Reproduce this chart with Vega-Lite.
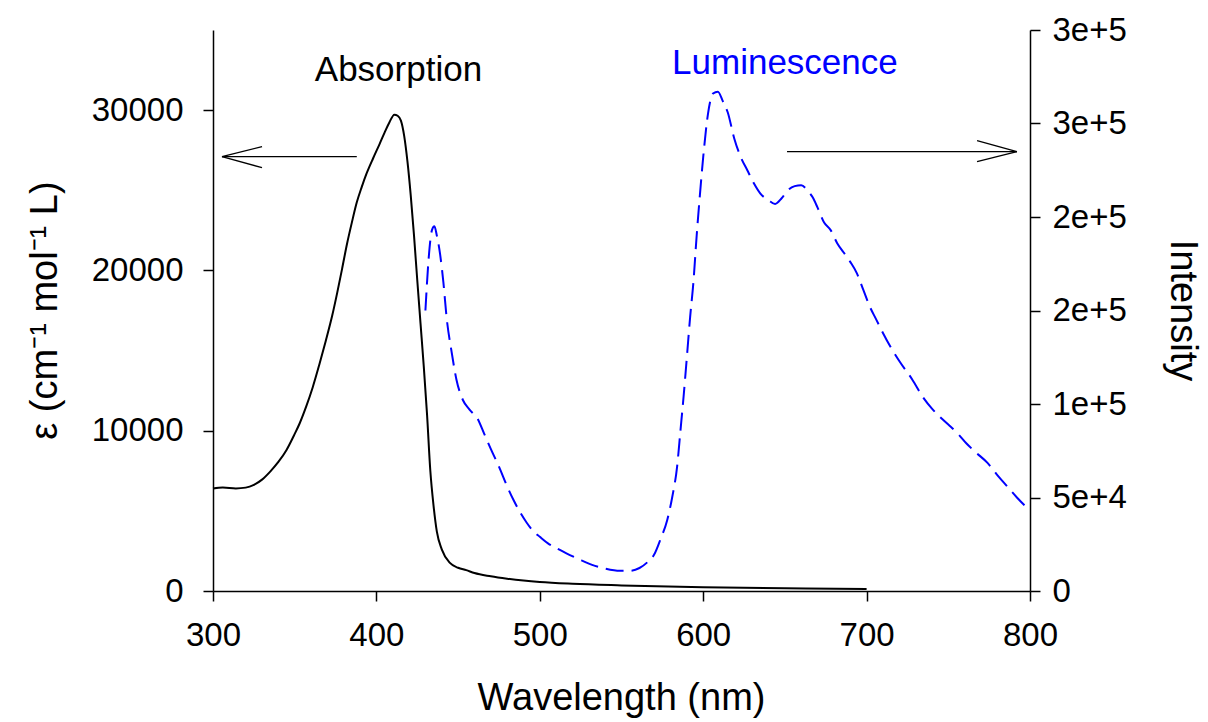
{
  "$schema": "https://vega.github.io/schema/vega-lite/v6.json",
  "width": 817,
  "height": 561,
  "autosize": {"type": "none"},
  "padding": {"left": 213, "top": 30, "right": 178, "bottom": 131},
  "background": "white",
  "config": {
    "view": {"stroke": null},
    "font": "Liberation Sans",
    "axis": {
      "grid": false,
      "domainColor": "black",
      "domainWidth": 1.5,
      "tickColor": "black",
      "tickWidth": 1.5,
      "tickSize": 10,
      "labelColor": "black",
      "labelFont": "Liberation Sans",
      "labelFontSize": 33,
      "labelFlush": false,
      "labelOverlap": false,
      "titleColor": "black",
      "titleFont": "Liberation Sans",
      "titleFontSize": 38,
      "titleFontWeight": "normal"
    }
  },
  "datasets": {
    "absorption": [
      {"wl": 300, "eps": 6400}, {"wl": 306, "eps": 6460}, {"wl": 314, "eps": 6400}, {"wl": 320, "eps": 6450},
      {"wl": 325, "eps": 6620}, {"wl": 330, "eps": 6950}, {"wl": 335, "eps": 7450}, {"wl": 340, "eps": 8050},
      {"wl": 345, "eps": 8800}, {"wl": 350, "eps": 9800}, {"wl": 353, "eps": 10450}, {"wl": 357, "eps": 11500},
      {"wl": 361, "eps": 12700}, {"wl": 365, "eps": 14100}, {"wl": 369, "eps": 15600}, {"wl": 373, "eps": 17200},
      {"wl": 376, "eps": 18600}, {"wl": 379, "eps": 20100}, {"wl": 382, "eps": 21650}, {"wl": 385, "eps": 23000},
      {"wl": 388, "eps": 24250}, {"wl": 391, "eps": 25200}, {"wl": 394, "eps": 26050}, {"wl": 398, "eps": 27000},
      {"wl": 402, "eps": 27900}, {"wl": 405, "eps": 28600}, {"wl": 408, "eps": 29250}, {"wl": 411, "eps": 29720},
      {"wl": 413, "eps": 29650}, {"wl": 415, "eps": 29350}, {"wl": 417, "eps": 28400}, {"wl": 419, "eps": 26800},
      {"wl": 421, "eps": 24700}, {"wl": 423, "eps": 22200}, {"wl": 425, "eps": 19400}, {"wl": 427, "eps": 16700},
      {"wl": 429, "eps": 14000}, {"wl": 431, "eps": 11000}, {"wl": 433, "eps": 7500}, {"wl": 435, "eps": 5300},
      {"wl": 437, "eps": 3700}, {"wl": 440, "eps": 2600}, {"wl": 445, "eps": 1750}, {"wl": 450, "eps": 1450},
      {"wl": 455, "eps": 1300}, {"wl": 460, "eps": 1120}, {"wl": 470, "eps": 920}, {"wl": 480, "eps": 770},
      {"wl": 490, "eps": 650}, {"wl": 500, "eps": 560}, {"wl": 520, "eps": 450}, {"wl": 550, "eps": 350},
      {"wl": 600, "eps": 230}, {"wl": 650, "eps": 170}, {"wl": 700, "eps": 130}
    ],
    "luminescence": [
      {"wl": 430, "int": 150000}, {"wl": 432, "int": 178000}, {"wl": 434, "int": 193000}, {"wl": 435.5, "int": 195000},
      {"wl": 437, "int": 190000}, {"wl": 439, "int": 180000}, {"wl": 441, "int": 165000}, {"wl": 443, "int": 146000},
      {"wl": 446, "int": 128000}, {"wl": 449, "int": 113000}, {"wl": 453, "int": 102000}, {"wl": 457, "int": 97000},
      {"wl": 462, "int": 92000}, {"wl": 466, "int": 84000}, {"wl": 470, "int": 76000}, {"wl": 475, "int": 66500},
      {"wl": 480, "int": 56000}, {"wl": 484, "int": 48500}, {"wl": 488, "int": 42000}, {"wl": 492, "int": 36500},
      {"wl": 496, "int": 32000}, {"wl": 500, "int": 29000}, {"wl": 505, "int": 25500}, {"wl": 510, "int": 23000},
      {"wl": 516, "int": 20300}, {"wl": 524, "int": 17000}, {"wl": 532, "int": 14000}, {"wl": 540, "int": 12000},
      {"wl": 549, "int": 10800}, {"wl": 555, "int": 10800}, {"wl": 561, "int": 12300}, {"wl": 566, "int": 15500},
      {"wl": 570, "int": 19500}, {"wl": 574, "int": 28000}, {"wl": 578, "int": 38000}, {"wl": 581, "int": 50000},
      {"wl": 584, "int": 66300}, {"wl": 586, "int": 85000}, {"wl": 588, "int": 104000}, {"wl": 590, "int": 125000},
      {"wl": 592, "int": 146500}, {"wl": 594, "int": 165000}, {"wl": 596, "int": 190000}, {"wl": 598, "int": 212000},
      {"wl": 600, "int": 232000}, {"wl": 603, "int": 255600}, {"wl": 606, "int": 266000}, {"wl": 609, "int": 267000},
      {"wl": 612, "int": 262000}, {"wl": 615, "int": 256000}, {"wl": 619, "int": 242000}, {"wl": 623, "int": 232000},
      {"wl": 627, "int": 225000}, {"wl": 631, "int": 218000}, {"wl": 635, "int": 212500}, {"wl": 640, "int": 209000},
      {"wl": 644, "int": 207000}, {"wl": 648, "int": 210000}, {"wl": 652, "int": 214500}, {"wl": 656, "int": 216500},
      {"wl": 660, "int": 217000}, {"wl": 664, "int": 214000}, {"wl": 667, "int": 210500}, {"wl": 670, "int": 205000},
      {"wl": 674, "int": 197000}, {"wl": 678, "int": 193000}, {"wl": 682, "int": 186000}, {"wl": 686, "int": 181000},
      {"wl": 690, "int": 176000}, {"wl": 694, "int": 170000}, {"wl": 698, "int": 161000}, {"wl": 702, "int": 152000},
      {"wl": 706, "int": 145000}, {"wl": 710, "int": 138000}, {"wl": 715, "int": 130000}, {"wl": 720, "int": 123000},
      {"wl": 728, "int": 113000}, {"wl": 735, "int": 103000}, {"wl": 740, "int": 97500}, {"wl": 745, "int": 93000},
      {"wl": 750, "int": 89000}, {"wl": 756, "int": 84000}, {"wl": 761, "int": 79000}, {"wl": 767, "int": 74000},
      {"wl": 774, "int": 68500}, {"wl": 780, "int": 62000}, {"wl": 786, "int": 56000}, {"wl": 792, "int": 50000},
      {"wl": 797, "int": 45500}, {"wl": 800, "int": 43000}
    ],
    "arrows": [
      {"x1": 305.5, "y1": 27100, "x2": 388, "y2": 27100},
      {"x1": 305.5, "y1": 27100, "x2": 330, "y2": 27720},
      {"x1": 305.5, "y1": 27100, "x2": 330, "y2": 26410},
      {"x1": 651.3, "y1": 27410, "x2": 792, "y2": 27410},
      {"x1": 792, "y1": 27410, "x2": 767.6, "y2": 28100},
      {"x1": 792, "y1": 27410, "x2": 767.6, "y2": 26790}
    ],
    "labels": [
      {"wl": 413.5, "eps": 31835, "label": "Absorption", "series": "abs"},
      {"wl": 650, "eps": 32250, "label": "Luminescence", "series": "lum"}
    ]
  },
  "layer": [
    {
      "layer": [
        {
          "data": {"name": "absorption"},
          "mark": {"type": "line", "color": "black", "strokeWidth": 2, "interpolate": "monotone"},
          "encoding": {
            "x": {
              "field": "wl", "type": "quantitative",
              "scale": {"domain": [300, 800], "nice": false, "zero": false},
              "axis": {
                "title": "Wavelength (nm)",
                "values": [300, 400, 500, 600, 700, 800],
                "labelBaseline": "top",
                "labelPadding": 18,
                "labelFlush": false,
                "titleX": 408,
                "titleY": 118,
                "titleBaseline": "alphabetic"
              }
            },
            "y": {
              "field": "eps", "type": "quantitative",
              "scale": {"domain": [0, 35000], "nice": false},
              "axis": {
                "title": "ε (cm⁻¹ mol⁻¹ L)",
                "values": [0, 10000, 20000, 30000],
                "format": "d",
                "labelPadding": 20,
                "titleAngle": -90,
                "titleX": -157,
                "titleY": 280,
                "titleAlign": "center",
                "titleBaseline": "alphabetic"
              }
            }
          }
        },
        {
          "data": {"name": "arrows"},
          "mark": {"type": "rule", "color": "black", "strokeWidth": 1.3},
          "encoding": {
            "x": {"field": "x1", "type": "quantitative"},
            "x2": {"field": "x2"},
            "y": {"field": "y1", "type": "quantitative"},
            "y2": {"field": "y2"}
          }
        },
        {
          "data": {"name": "labels"},
          "mark": {"type": "text", "font": "Liberation Sans", "fontSize": 35, "align": "center", "baseline": "alphabetic"},
          "encoding": {
            "x": {"field": "wl", "type": "quantitative"},
            "y": {"field": "eps", "type": "quantitative"},
            "text": {"field": "label"},
            "color": {
              "field": "series", "type": "nominal",
              "scale": {"domain": ["abs", "lum"], "range": ["#000000", "#0000FF"]},
              "legend": null
            }
          }
        }
      ]
    },
    {
      "data": {"name": "luminescence"},
      "mark": {"type": "line", "color": "#0000FF", "strokeWidth": 2, "strokeDash": [18, 8], "interpolate": "monotone"},
      "encoding": {
        "x": {"field": "wl", "type": "quantitative"},
        "y": {
          "field": "int", "type": "quantitative",
          "scale": {"domain": [0, 300000], "nice": false},
          "axis": {
            "orient": "right",
            "title": "Intensity",
            "values": [0, 50000, 100000, 150000, 200000, 250000, 300000],
            "labelExpr": "datum.value == 0 ? '0' : format(datum.value, '.0e')",
            "labelPadding": 12,
            "titleAngle": 90,
            "titleX": 140,
            "titleY": 280,
            "titleAlign": "center",
            "titleBaseline": "alphabetic"
          }
        }
      }
    }
  ],
  "resolve": {"scale": {"y": "independent"}}
}
